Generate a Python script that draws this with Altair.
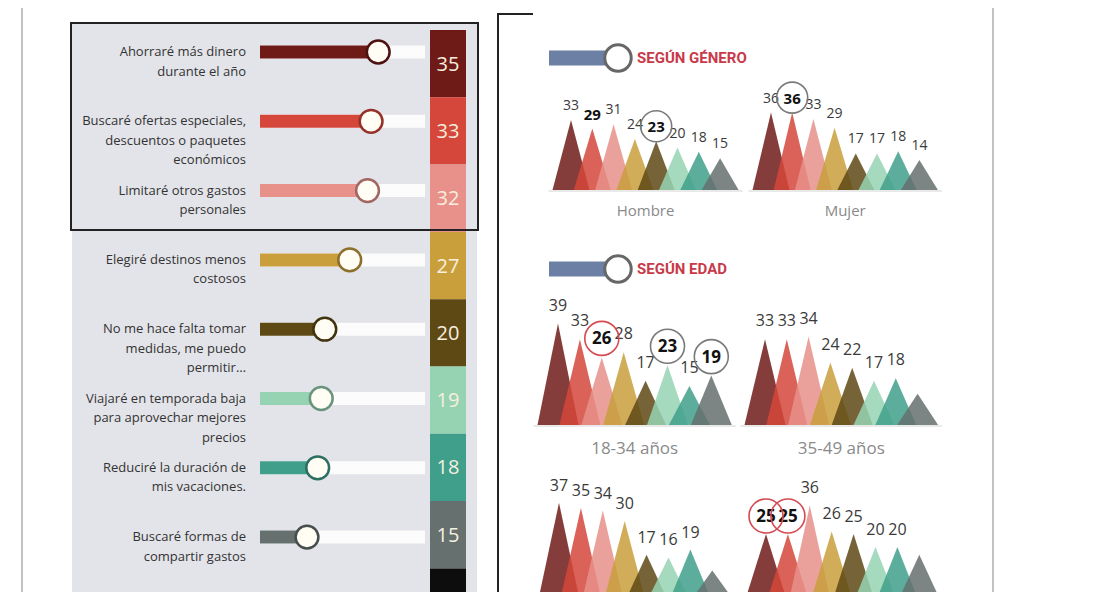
import altair as alt
import pandas as pd

# ---------------- data ----------------
measures = [
    "Ahorraré más dinero\ndurante el año",
    "Buscaré ofertas especiales,\ndescuentos o paquetes\neconómicos",
    "Limitaré otros gastos\npersonales",
    "Elegiré destinos menos\ncostosos",
    "No me hace falta tomar\nmedidas, me puedo\npermitir…",
    "Viajaré en temporada baja\npara aprovechar mejores\nprecios",
    "Reduciré la duración de\nmis vacaciones.",
    "Buscaré formas de\ncompartir gastos",
    "",
]
totals = [35, 33, 32, 27, 20, 19, 18, 15, 9]
palette = ["#6e1b17", "#d5473b", "#e8918a", "#c99f3c", "#5e4915",
           "#96d3b3", "#3f9f8b", "#65706f", "#0d0d0d"]

hombre = [33, 29, 31, 24, 23, 20, 18, 15]
mujer = [36, 36, 33, 29, 17, 17, 18, 14]
edad_18_34 = [39, 33, 26, 28, 17, 23, 15, 19]
edad_35_49 = [33, 33, 34, 24, 22, 17, 18, 12]
edad_50_64 = [37, 35, 34, 30, 17, 16, 19, 11]
edad_65 = [25, 25, 36, 26, 25, 20, 20, 17]

group_names = ["Hombre", "Mujer", "18-34 años", "35-49 años", "", ""]
labels_shown = [8, 8, 8, 7, 7, 7]
bold_idx = [[1, 4], [1], [2, 5, 7], [], [], [0, 1]]
circled = [[(4, "g")], [(1, "g")], [(2, "r"), (5, "g"), (7, "g")], [], [], [(0, "r"), (1, "r")]]
headers = ["SEGÚN GÉNERO", "SEGÚN EDAD"]

# ---------------- layout (page pixel coordinates) ----------------
XS = alt.Scale(domain=[8, 1087], nice=False, zero=False)
YS = alt.Scale(domain=[8, 592], reverse=True, nice=False, zero=False)


def X(f="x"):
    return alt.X(f"{f}:Q", scale=XS, axis=None)


def Y(f="y"):
    return alt.Y(f"{f}:Q", scale=YS, axis=None, stack=None)


def darker(h, k=0.7):
    r, g, b = int(h[1:3], 16), int(h[3:5], 16), int(h[5:7], 16)
    return "#%02x%02x%02x" % (int(r * k), int(g * k), int(b * k))


FONT = "Open Sans"
layers = []

# outer frame lines
frame = pd.DataFrame({"x": [22, 993]})
layers.append(alt.Chart(frame).mark_rule(color="#c2c2c2", strokeWidth=2).encode(
    x=X(), y=alt.value(0), y2=alt.value(584)))

# left panel background
panel = pd.DataFrame({"x": [72], "x2": [477], "y": [24], "y2": [600]})
layers.append(alt.Chart(panel).mark_rect(color="#e3e4e9", clip=True).encode(
    x=X(), x2="x2:Q", y=Y(), y2="y2:Q"))

# item table
SEG0, SEGH = 30.0, 67.3
SL0, SLP = 52.0, 69.3
rows = []
for i, (lab, v) in enumerate(zip(measures, totals)):
    sy = SL0 + i * SLP
    rows.append(dict(
        label=lab, value=v, col=palette[i], dcol=darker(palette[i]),
        sx=430, sx2=466, sy0=SEG0 + i * SEGH, sy1=SEG0 + (i + 1) * SEGH,
        smid=SEG0 + (i + 0.5) * SEGH + 1, tx=448,
        ty=sy, ty0=sy - 6.5, ty1=sy + 6.5, trx=260, trx2=425,
        kx=253.6 + 3.56 * v, lx=246,
    ))
items = pd.DataFrame(rows)

layers.append(alt.Chart(items).mark_rect(clip=True).encode(
    x=X("sx"), x2="sx2:Q", y=Y("sy0"), y2="sy1:Q", color=alt.Color("col:N", scale=None)))
layers.append(alt.Chart(items).mark_text(
    fontSize=20, font=FONT, color="#f7efdf", baseline="middle", align="center", clip=True
).encode(x=X("tx"), y=Y("smid"), text="value:Q"))
layers.append(alt.Chart(items).mark_rect(color="#fcfcfc", clip=True).encode(
    x=X("trx"), x2="trx2:Q", y=Y("ty0"), y2="ty1:Q"))
layers.append(alt.Chart(items).mark_rect(clip=True).encode(
    x=X("trx"), x2="kx:Q", y=Y("ty0"), y2="ty1:Q", color=alt.Color("col:N", scale=None)))
layers.append(alt.Chart(items).mark_point(
    shape="circle", filled=True, fill="#fffdf4", size=520, strokeWidth=2.5, opacity=1, clip=True
).encode(x=X("kx"), y=Y("ty"), stroke=alt.Stroke("dcol:N", scale=None)))
layers.append(alt.Chart(items).mark_text(
    align="right", baseline="middle", lineBreak="\n", lineHeight=19.5,
    fontSize=13, font=FONT, color="#333333", clip=True
).encode(x=X("lx"), y=Y("ty"), text="label:N"))

# black box around top three
box = pd.DataFrame({"x": [71], "x2": [478], "y": [23], "y2": [230]})
layers.append(alt.Chart(box).mark_rect(fillOpacity=0, stroke="#222222", strokeWidth=2).encode(
    x=X(), x2="x2:Q", y=Y(), y2="y2:Q"))

# bracket on the right panel
vb = pd.DataFrame({"x": [498], "y": [14], "y2": [600]})
layers.append(alt.Chart(vb).mark_rule(color="#222222", strokeWidth=2, clip=True).encode(
    x=X(), y=Y(), y2="y2:Q"))
hb = pd.DataFrame({"x": [497], "x2": [533], "y": [14]})
layers.append(alt.Chart(hb).mark_rule(color="#222222", strokeWidth=2).encode(
    x=X(), x2="x2:Q", y=Y()))

# section headers
hy = [58, 269]
hd = pd.DataFrame({"text": headers, "y": hy, "y0": [v - 7.5 for v in hy], "y1": [v + 7.5 for v in hy],
                   "bx": 549, "bx2": 612, "kx": 618, "tx": 637})
layers.append(alt.Chart(hd).mark_rect(color="#6b80a4").encode(
    x=X("bx"), x2="bx2:Q", y=Y("y0"), y2="y1:Q"))
layers.append(alt.Chart(hd).mark_point(
    shape="circle", filled=True, fill="#ffffff", stroke="#676767", strokeWidth=3, size=700, opacity=1
).encode(x=X("kx"), y=Y("y")))
layers.append(alt.Chart(hd).mark_text(
    align="left", baseline="middle", fontSize=15, fontWeight="bold",
    font="Roboto", color="#c83a4a"
).encode(x=X("tx"), y=Y("y"), text="text:N"))

# triangle groups: (values, first peak x, spacing, base y, px per unit, half width, label offset, font size)
groups = [
    (hombre, 571, 21.3, 190, 2.12, 18.5, 14, 14),
    (mujer, 771, 21.2, 190, 2.15, 18.5, 14, 14),
    (edad_18_34, 558, 21.9, 425, 2.6, 20.5, 18, 16),
    (edad_35_49, 765, 21.8, 425, 2.6, 20.5, 18, 16),
    (edad_50_64, 559, 21.9, 599, 2.6, 20.5, 17, 16),
    (edad_65, 766, 21.9, 599, 2.6, 20.5, 17, 16),
]
tri, labs, circ, bases, names = [], [], [], [], []
for g, (vals, x0, dx, base, k, hw, off, fs) in enumerate(groups):
    for i, v in enumerate(vals):
        xp = x0 + i * dx
        yp = base - k * v
        tid = f"{g}_{i}"
        for xx, yy in ((xp - hw, base), (xp, yp), (xp + hw, base)):
            tri.append(dict(tid=tid, x=xx, y=yy, y2=base, col=palette[i]))
        if i < labels_shown[g]:
            labs.append(dict(x=xp, y=yp - off, text=str(v), bold=i in bold_idx[g], fs=fs))
    for (i, c) in circled[g]:
        v = vals[i]
        circ.append(dict(x=x0 + i * dx, y=base - k * v - off - 1,
                         c="#d64a52" if c == "r" else "#7a7a7a", s=(34 if fs > 14 else 31) ** 2))
    bases.append(dict(x=x0 - hw - 4, x2=x0 + 7 * dx + hw + 4, y=base + 1))
    if group_names[g]:
        names.append(dict(x=x0 + 3.5 * dx, y=base + (21 if fs == 14 else 24), text=group_names[g], fs=fs))

tri = pd.DataFrame(tri)
labs = pd.DataFrame(labs)
circ = pd.DataFrame(circ)
bases = pd.DataFrame(bases)
names = pd.DataFrame(names)

layers.append(alt.Chart(bases).mark_rule(color="#e2e2e2", strokeWidth=1.5, clip=True).encode(
    x=X(), x2="x2:Q", y=Y()))
layers.append(alt.Chart(tri).mark_area(opacity=0.85, clip=True).encode(
    x=X(), y=Y(), y2="y2:Q", detail="tid:N", color=alt.Color("col:N", scale=None)))
for bold in (False, True):
    sub = labs[labs["bold"] == bold]
    for fs in sorted(sub["fs"].unique()):
        s2 = sub[sub["fs"] == fs]
        layers.append(alt.Chart(s2).mark_text(
            fontSize=int(fs) + (1 if bold else 0), font=FONT, fontWeight="bold" if bold else "normal",
            color="#111111" if bold else "#3a3a3a", baseline="middle", align="center", clip=True
        ).encode(x=X(), y=Y(), text="text:N"))
layers.append(alt.Chart(circ).mark_point(shape="circle", filled=False, strokeWidth=1.6, opacity=1, clip=True).encode(
    x=X(), y=Y(), stroke=alt.Stroke("c:N", scale=None), size=alt.Size("s:Q", scale=None)))
for fs in sorted(names["fs"].unique()):
    s2 = names[names["fs"] == fs]
    layers.append(alt.Chart(s2).mark_text(
        fontSize=int(fs) + 1, font=FONT, color="#8a8a8a", baseline="middle", align="center"
    ).encode(x=X(), y=Y(), text="text:N"))

chart = alt.layer(*layers).properties(
    width=1079, height=584, padding=0, autosize="none", background="white"
).configure_view(stroke=None)

chart.save("out.html", embed_options={"renderer": "svg", "actions": False})
